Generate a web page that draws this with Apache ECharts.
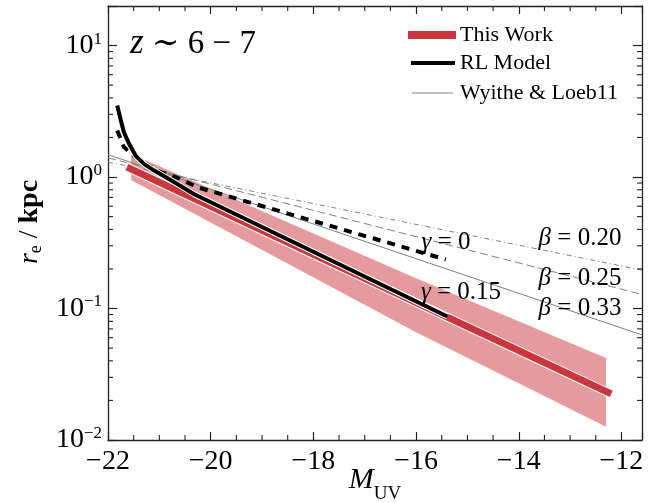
<!DOCTYPE html>
<html>
<head>
<meta charset="utf-8">
<script src="https://cdn.jsdelivr.net/npm/echarts@6/dist/echarts.min.js"></script>
<style>
  html, body { margin: 0; padding: 0; background: #fff; }
  #chart { width: 649px; height: 503px; }
</style>
</head>
<body>
<div id="chart"></div>
<script>
var SERIF = '"Liberation Serif", "DejaVu Serif", serif';
var X_MIN = -22, X_MAX = -11.6;
var Y_MIN = 0.01, Y_MAX = 20;

// This Work: fit line and its uncertainty band
var workX = [-21.63, -12.2];
var workY = [1.19, 0.0224];
var bandX = [-21.55, -16, -12.3];
var bandUpper = [1.50, 0.17, 0.042];
var bandLower = [0.95, 0.066, 0.0126];

// RL model, gamma = 0.15 (solid) and gamma = 0 (dashed)
var rlSolidX = [-21.82, -21.75, -21.69, -21.59, -21.46, -21.30, -21.10, -20.78, -20.32, -15.39];
var rlSolidY = [3.5, 2.69, 2.19, 1.79, 1.45, 1.26, 1.12, 0.95, 0.74, 0.087];
var rlDashX = [-21.82, -21.69, -21.46, -21.2, -21.0, -20.68, -20.23, -15.42];
var rlDashY = [2.26, 1.69, 1.41, 1.22, 1.10, 1.0, 0.83, 0.236];

// Wyithe & Loeb 11, three beta values
var wlX = [-22, -11.6];
var wl033 = [1.48, 0.063];
var wl025 = [1.40, 0.128];
var wl020 = [1.30, 0.196];

// minor ticks
var xMinor = [-21.5, -21, -20.5, -19.5, -19, -18.5, -17.5, -17, -16.5,
              -15.5, -15, -14.5, -13.5, -13, -12.5];
var yMinor = [0.02, 0.03, 0.04, 0.05, 0.06, 0.07, 0.08, 0.09,
              0.2, 0.3, 0.4, 0.5, 0.6, 0.7, 0.8, 0.9,
              2, 3, 4, 5, 6, 7, 8, 9];

var RED = '#c9363e';
var BAND = '#e59a9e';
var GRAY = '#808080';
var AXIS = '#222';

function pairs(xs, ys) {
  return xs.map(function (x, i) { return [x, ys[i]]; });
}

var dom = document.getElementById('chart');
var myChart = echarts.init(dom, null, { renderer: 'canvas' });

var xAxisBase = {
  type: 'value',
  min: X_MIN,
  max: X_MAX,
  interval: 2,
  axisLine: { show: true, onZero: false, lineStyle: { color: AXIS, width: 1.3 } },
  axisTick: { show: true, inside: true, length: 8, lineStyle: { color: AXIS, width: 1.2 } },
  splitLine: { show: false }
};

var yAxisBase = {
  type: 'log',
  logBase: 10,
  min: Y_MIN,
  max: Y_MAX,
  axisLine: { show: true, onZero: false, lineStyle: { color: AXIS, width: 1.3 } },
  axisTick: { show: true, inside: true, length: 9, lineStyle: { color: AXIS, width: 1.2 } },
  splitLine: { show: false }
};

function italicLabel(x, y, text) {
  return {
    type: 'text', x: x, y: y, z: 20,
    style: {
      text: text, font: '25px ' + SERIF, fill: '#000', align: 'center', verticalAlign: 'middle',
      rich: { i: { fontStyle: 'italic', fontSize: 25, fontFamily: SERIF } }
    }
  };
}

option = {
  animation: false,
  backgroundColor: '#fff',
  grid: { left: 108, right: 7, top: 6, bottom: 63, containLabel: false },
  xAxis: [
    Object.assign({}, xAxisBase, {
      position: 'bottom',
      axisLabel: {
        show: true,
        margin: 8,
        color: '#000',
        fontSize: 28,
        fontFamily: SERIF,
        formatter: function (v) {
          if (Math.abs(v % 2) > 1e-6) return '';
          return String(v).replace('-', '\u2212');
        }
      }
    }),
    Object.assign({}, xAxisBase, { position: 'top', axisLabel: { show: false } })
  ],
  yAxis: [
    Object.assign({}, yAxisBase, {
      position: 'left',
      axisLabel: {
        show: true,
        margin: 6,
        showMinLabel: true,
        formatter: function (v) {
          var e = Math.round(Math.log10(v));
          if (Math.abs(v - Math.pow(10, e)) > 1e-9 * Math.pow(10, e)) return '';
          return '{b|10}{s|' + String(e).replace('-', '\u2212') + '}';
        },
        rich: {
          b: { fontSize: 28, fontFamily: SERIF, color: '#000', lineHeight: 30 },
          s: { fontSize: 17, fontFamily: SERIF, color: '#000', lineHeight: 20, verticalAlign: 'top' }
        }
      }
    }),
    Object.assign({}, yAxisBase, { position: 'right', axisLabel: { show: false } })
  ],
  series: [
    {
      name: 'band',
      type: 'custom',
      z: 1,
      silent: true,
      data: [[bandX[0], bandUpper[0]]],
      renderItem: function (params, api) {
        var pts = [];
        for (var i = 0; i < bandX.length; i++) pts.push(api.coord([bandX[i], bandUpper[i]]));
        for (var j = bandX.length - 1; j >= 0; j--) pts.push(api.coord([bandX[j], bandLower[j]]));
        return { type: 'polygon', shape: { points: pts }, style: { fill: BAND, stroke: null } };
      }
    },
    {
      name: 'xminor',
      type: 'custom',
      z: 10,
      silent: true,
      data: xMinor.map(function (v) { return [v, 1]; }),
      renderItem: function (params, api) {
        var v = api.value(0);
        var b = api.coord([v, Y_MIN]);
        var t = api.coord([v, Y_MAX]);
        var st = { stroke: AXIS, lineWidth: 1.1 };
        return {
          type: 'group',
          children: [
            { type: 'line', shape: { x1: b[0], y1: b[1], x2: b[0], y2: b[1] - 5 }, style: st },
            { type: 'line', shape: { x1: t[0], y1: t[1], x2: t[0], y2: t[1] + 5 }, style: st }
          ]
        };
      }
    },
    {
      name: 'yminor',
      type: 'custom',
      z: 10,
      silent: true,
      data: yMinor.map(function (v) { return [-20, v]; }),
      renderItem: function (params, api) {
        var v = api.value(1);
        var l = api.coord([X_MIN, v]);
        var r = api.coord([X_MAX, v]);
        var st = { stroke: AXIS, lineWidth: 1.1 };
        return {
          type: 'group',
          children: [
            { type: 'line', shape: { x1: l[0], y1: l[1], x2: l[0] + 5, y2: l[1] }, style: st },
            { type: 'line', shape: { x1: r[0], y1: r[1], x2: r[0] - 5, y2: r[1] }, style: st }
          ]
        };
      }
    },
    {
      name: 'WL 0.33', type: 'line', z: 3, symbol: 'none', silent: true,
      data: pairs(wlX, wl033),
      lineStyle: { color: GRAY, width: 1 }
    },
    {
      name: 'WL 0.25', type: 'line', z: 3, symbol: 'none', silent: true,
      data: pairs(wlX, wl025),
      lineStyle: { color: GRAY, width: 1, type: [8, 4] }
    },
    {
      name: 'WL 0.20', type: 'line', z: 3, symbol: 'none', silent: true,
      data: pairs(wlX, wl020),
      lineStyle: { color: GRAY, width: 1, type: [5, 3, 1, 3] }
    },
    {
      name: 'work edge', type: 'line', z: 4, symbol: 'none', silent: true,
      data: pairs(workX, workY),
      lineStyle: { color: '#fff', width: 9, cap: 'butt' }
    },
    {
      name: 'This Work', type: 'line', z: 5, symbol: 'none', silent: true,
      data: pairs(workX, workY),
      lineStyle: { color: RED, width: 7, cap: 'butt' }
    },
    {
      name: 'RL dash', type: 'line', z: 6, symbol: 'none', silent: true,
      data: pairs(rlDashX, rlDashY),
      lineStyle: { color: '#000', width: 4, type: [8, 7], cap: 'butt', join: 'round' }
    },
    {
      name: 'RL edge', type: 'line', z: 6, symbol: 'none', silent: true,
      data: pairs(rlSolidX, rlSolidY),
      lineStyle: { color: '#fff', width: 6, cap: 'butt', join: 'round' }
    },
    {
      name: 'RL Model', type: 'line', z: 7, symbol: 'none', silent: true,
      data: pairs(rlSolidX, rlSolidY),
      lineStyle: { color: '#000', width: 4, cap: 'butt', join: 'round' }
    }
  ],
  graphic: [
    // redshift title
    {
      type: 'text', x: 130, y: 44, z: 20,
      style: {
        text: '{i|z} \u223C 6 \u2212 7',
        font: '33px ' + SERIF, fill: '#000', verticalAlign: 'middle', align: 'left',
        rich: { i: { fontStyle: 'italic', fontSize: 35, fontFamily: SERIF } }
      }
    },
    // legend
    { type: 'line', z: 20, shape: { x1: 408, y1: 35, x2: 456, y2: 35 }, style: { stroke: RED, lineWidth: 8 } },
    { type: 'line', z: 20, shape: { x1: 411, y1: 63, x2: 455, y2: 63 }, style: { stroke: '#000', lineWidth: 4 } },
    { type: 'line', z: 20, shape: { x1: 412, y1: 93, x2: 453, y2: 93 }, style: { stroke: GRAY, lineWidth: 1 } },
    { type: 'text', x: 460, y: 35, z: 20, style: { text: 'This Work', font: '22px ' + SERIF, fill: '#000', verticalAlign: 'middle' } },
    { type: 'text', x: 460, y: 63, z: 20, style: { text: 'RL Model', font: '22px ' + SERIF, fill: '#000', verticalAlign: 'middle' } },
    { type: 'text', x: 460, y: 93, z: 20, style: { text: 'Wyithe & Loeb11', font: '22px ' + SERIF, fill: '#000', verticalAlign: 'middle' } },
    // curve annotations
    italicLabel(580, 238, '{i|\u03B2} = 0.20'),
    italicLabel(580, 278, '{i|\u03B2} = 0.25'),
    italicLabel(580, 308, '{i|\u03B2} = 0.33'),
    italicLabel(446, 242, '{i|\u03B3} = 0'),
    italicLabel(461, 292, '{i|\u03B3} = 0.15'),
    // axis titles
    {
      type: 'text', x: 30, y: 222, z: 20, rotation: Math.PI / 2,
      style: {
        text: '{i|r}{sub|e} / {b|kpc}',
        font: '28px ' + SERIF, fill: '#000', align: 'center', verticalAlign: 'middle',
        rich: {
          i: { fontStyle: 'italic', fontSize: 28, fontFamily: SERIF, lineHeight: 30 },
          sub: { fontSize: 18, fontFamily: SERIF, lineHeight: 20, verticalAlign: 'bottom' },
          b: { fontWeight: 'bold', fontSize: 28, fontFamily: SERIF, lineHeight: 30 }
        }
      }
    },
    {
      type: 'text', x: 375, y: 480, z: 20,
      style: {
        text: '{i|M}{sub|UV}',
        fill: '#000', align: 'center', verticalAlign: 'middle',
        rich: {
          i: { fontStyle: 'italic', fontSize: 30, fontFamily: SERIF, lineHeight: 32 },
          sub: { fontSize: 19, fontFamily: SERIF, lineHeight: 20, verticalAlign: 'bottom', padding: [0, 0, -8, 0] }
        }
      }
    }
  ]
};

if (option && typeof option === 'object') {
  myChart.setOption(option, true);
}
</script>
</body>
</html>
